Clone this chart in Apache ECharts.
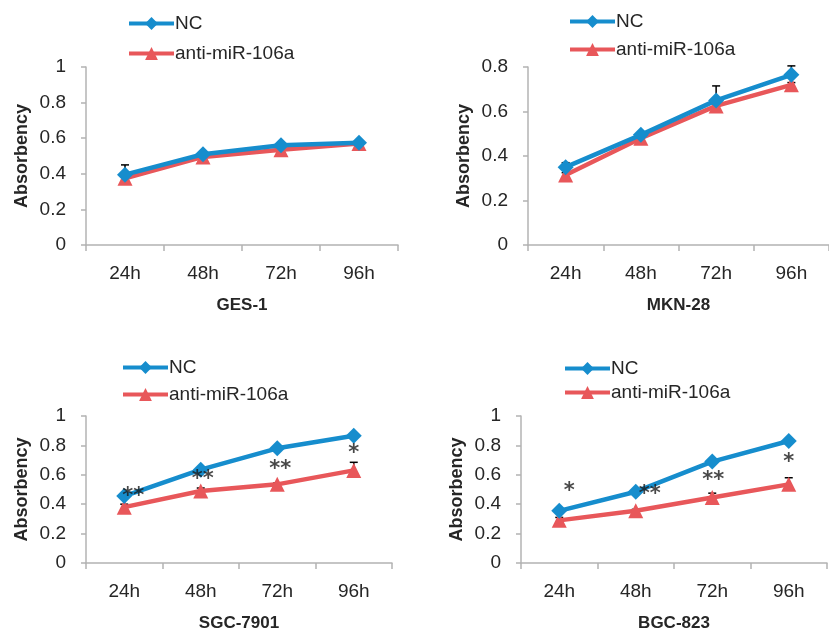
<!DOCTYPE html>
<html>
<head>
<meta charset="utf-8">
<script src="https://cdn.jsdelivr.net/npm/echarts@6/dist/echarts.min.js"></script>
<style>
html,body{margin:0;padding:0;background:#fff;}
#chart{width:829px;height:633px;}
</style>
</head>
<body>
<div id="chart"></div>
<script>
// ---- data ----
var categories = ['24h', '48h', '72h', '96h'];
var seriesNames = ['NC', 'anti-miR-106a'];
var panelTitles = ['GES-1', 'MKN-28', 'SGC-7901', 'BGC-823'];
var yAxisName = 'Absorbency';

var gesNC = [0.395, 0.51, 0.56, 0.575];
var gesAnti = [0.375, 0.495, 0.535, 0.57];
var gesNCErr = [0.055, 0.01, 0.01, 0.01];
var gesAntiErr = [0.01, 0.01, 0.01, 0.01];

var mknNC = [0.35, 0.495, 0.65, 0.765];
var mknAnti = [0.315, 0.48, 0.625, 0.72];
var mknNCErr = [0.02, 0.01, 0.065, 0.04];
var mknAntiErr = [0.01, 0.01, 0.01, 0.01];

var sgcNC = [0.455, 0.635, 0.78, 0.865];
var sgcAnti = [0.38, 0.49, 0.535, 0.63];
var sgcNCErr = [0.01, 0.01, 0.01, 0.01];
var sgcAntiErr = [0.02, 0.02, 0.01, 0.055];
var sgcStars = ['**', '**', '**', '*'];
var sgcStarLevel = [0.483, 0.60, 0.667, 0.78];

var bgcNC = [0.355, 0.485, 0.69, 0.83];
var bgcAnti = [0.29, 0.355, 0.445, 0.535];
var bgcNCErr = [0.01, 0.01, 0.01, 0.01];
var bgcAntiErr = [0.02, 0.01, 0.03, 0.045];
var bgcStars = ['*', '**', '**', '*'];
var bgcStarLevel = [0.517, 0.503, 0.592, 0.714];

var yMax = [1, 0.8, 1, 1];

// ---- styling / layout ----
var FONT = 'Liberation Sans';
var BLUE = '#168dcd';
var RED = '#e8575a';
var AXIS = '#b3b3b3';
var TXT = '#262626';

var grids = [
  {left: 86, top: 67, width: 312, height: 178},
  {left: 528, top: 67, width: 312, height: 178},
  {left: 86, top: 416, width: 306, height: 147},
  {left: 521, top: 416, width: 306, height: 147}
];
var legendPos = [
  {left: 127, top: 14, gap: 11},
  {left: 568, top: 12, gap: 9},
  {left: 121, top: 358, gap: 8},
  {left: 563, top: 359, gap: 5}
];
var starDx = [
  null, null,
  [9, 2, 3, 0],
  [10, 14, 1, 0]
];

var panelData = [
  {nc: gesNC, anti: gesAnti, ncErr: gesNCErr, antiErr: gesAntiErr},
  {nc: mknNC, anti: mknAnti, ncErr: mknNCErr, antiErr: mknAntiErr},
  {nc: sgcNC, anti: sgcAnti, ncErr: sgcNCErr, antiErr: sgcAntiErr, stars: sgcStars, starLevel: sgcStarLevel},
  {nc: bgcNC, anti: bgcAnti, ncErr: bgcNCErr, antiErr: bgcAntiErr, stars: bgcStars, starLevel: bgcStarLevel}
];

function errData(vals, errs) {
  return vals.map(function (v, i) { return [i, v, v + errs[i]]; });
}

function renderErr(params, api) {
  var x = api.value(0);
  var p0 = api.coord([x, api.value(1)]);
  var p1 = api.coord([x, api.value(2)]);
  var half = 4;
  var st = {stroke: '#000', lineWidth: 1.5};
  return {
    type: 'group',
    children: [
      {type: 'line', shape: {x1: p0[0], y1: p0[1], x2: p1[0], y2: p1[1]}, style: st},
      {type: 'line', shape: {x1: p1[0] - half, y1: p1[1], x2: p1[0] + half, y2: p1[1]}, style: st}
    ]
  };
}

var option = {
  animation: false,
  backgroundColor: '#fff',
  textStyle: {fontFamily: FONT},
  grid: grids,
  legend: [],
  xAxis: [],
  yAxis: [],
  series: []
};

panelData.forEach(function (pd, k) {
  option.legend.push({
    data: seriesNames,
    orient: 'vertical',
    left: legendPos[k].left,
    top: legendPos[k].top,
    padding: 0,
    itemWidth: 45,
    itemHeight: 16,
    itemGap: legendPos[k].gap,
    lineStyle: {width: 4},
    textStyle: {fontFamily: FONT, fontSize: 19, color: TXT, padding: [0, 0, 0, -4]}
  });
  option.xAxis.push({
    type: 'category',
    gridIndex: k,
    data: categories,
    boundaryGap: true,
    name: panelTitles[k],
    nameLocation: 'middle',
    nameGap: 52,
    nameTextStyle: {fontFamily: FONT, fontSize: 17, fontWeight: 'bold', color: TXT},
    axisLine: {lineStyle: {color: AXIS, width: 1.5}},
    axisTick: {show: true, length: 6, lineStyle: {color: AXIS, width: 1.5}},
    axisLabel: {fontFamily: FONT, fontSize: 19, color: TXT, margin: 19},
    splitLine: {show: false}
  });
  option.yAxis.push({
    type: 'value',
    gridIndex: k,
    min: 0,
    max: yMax[k],
    interval: 0.2,
    name: yAxisName,
    nameLocation: 'middle',
    nameGap: 55,
    nameTextStyle: {fontFamily: FONT, fontSize: 18, fontWeight: 'bold', color: TXT},
    axisLine: {show: true, lineStyle: {color: AXIS, width: 1.5}},
    axisTick: {show: true, length: 5, lineStyle: {color: AXIS, width: 1.5}},
    axisLabel: {fontFamily: FONT, fontSize: 19, color: TXT, margin: 20},
    splitLine: {show: false}
  });
  // error bars (behind markers)
  option.series.push({
    type: 'custom', xAxisIndex: k, yAxisIndex: k, z: 1, silent: true,
    renderItem: renderErr, data: errData(pd.nc, pd.ncErr)
  });
  option.series.push({
    type: 'custom', xAxisIndex: k, yAxisIndex: k, z: 1, silent: true,
    renderItem: renderErr, data: errData(pd.anti, pd.antiErr)
  });
  option.series.push({
    name: seriesNames[0], type: 'line', xAxisIndex: k, yAxisIndex: k, z: 3,
    data: pd.nc, symbol: 'diamond', symbolSize: 16, showAllSymbol: true,
    lineStyle: {color: BLUE, width: 4.5}, itemStyle: {color: BLUE}
  });
  option.series.push({
    name: seriesNames[1], type: 'line', xAxisIndex: k, yAxisIndex: k, z: 2,
    data: pd.anti, symbol: 'triangle', symbolSize: 15, showAllSymbol: true,
    lineStyle: {color: RED, width: 4.5}, itemStyle: {color: RED}
  });
  if (pd.stars) {
    option.series.push({
      type: 'scatter', xAxisIndex: k, yAxisIndex: k, z: 5, silent: true,
      symbolSize: 0,
      data: pd.starLevel.map(function (v, i) {
        return {
          value: [i, v],
          label: {show: true, position: 'inside', formatter: pd.stars[i], offset: [starDx[k][i], 5],
            fontFamily: 'DejaVu Sans', fontSize: 21, fontWeight: 'bold', color: '#1a1a1a'}
        };
      })
    });
  }
});

var chart = echarts.init(document.getElementById('chart'), null, {renderer: 'canvas'});
chart.setOption(option);
</script>
</body>
</html>
